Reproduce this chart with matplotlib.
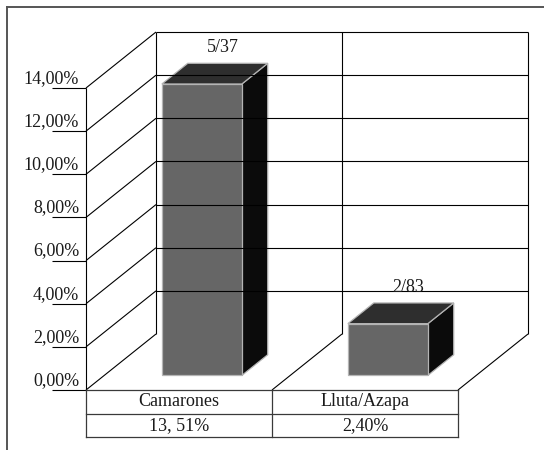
import matplotlib.pyplot as plt
from matplotlib.patches import Polygon
from matplotlib.lines import Line2D

# datos del grafico
categorias = ['Camarones', 'Lluta/Azapa']
porcentajes = [13.51, 2.40]
fracciones = ['5/37', '2/83']
valores_tabla = ['13, 51%', '2,40%']
ticks_y = [0, 2, 4, 6, 8, 10, 12, 14]
etiquetas_y = ['0,00%', '2,00%', '4,00%', '6,00%', '8,00%', '10,00%', '12,00%', '14,00%']

plt.rcParams['font.family'] = ['Liberation Serif', 'DejaVu Serif']
plt.rcParams['font.size'] = 13

W, H = 544, 450
fig = plt.figure(figsize=(W / 100, H / 100), dpi=100)
fig.patch.set_facecolor('white')

# plano frontal del grafico (en pixeles de la figura)
ax = fig.add_axes([86 / W, (H - 390) / H, 372 / W, 302 / H])
ax.set_xlim(0, len(categorias))
ax.set_ylim(0, 14)
ax.axis('off')

# cuanto vale un pixel en unidades de datos
px_x = len(categorias) / 372
px_y = 14 / 302
# profundidad del efecto 3D
DX = 70 * px_x
DY = 56 * px_y

kw = dict(color='black', lw=0.8, clip_on=False, solid_capstyle='butt')
color_texto = '#1a1a1a'

# pared izquierda, marcas y etiquetas del eje
for v, et in zip(ticks_y, etiquetas_y):
    ax.plot([0, DX], [v, v + DY], **kw)
    ax.plot([-34 * px_x, 0], [v, v], **kw)
    ax.text(-7 * px_x, v + 1 * px_y, et, ha='right', va='bottom', color=color_texto)
ax.plot([0, 0], [0, 14], **kw)

# pared del fondo
for v in ticks_y[1:]:
    ax.plot([DX, len(categorias) + DX], [v + DY, v + DY], **kw)
for i in range(len(categorias) + 1):
    ax.plot([i + DX, i + DX], [DY, 14 + DY], **kw)

# piso
for i in range(1, len(categorias) + 1):
    ax.plot([i, i + DX], [0, DY], **kw)

# barras 3D
f0, f1 = 0.26, 0.63
ancho = 0.43
ddx = (f1 - f0) * DX
ddy = (f1 - f0) * DY
for i, (v, fr) in enumerate(zip(porcentajes, fracciones)):
    xl = i + 0.31 + f0 * DX
    xr = xl + ancho
    yb = f0 * DY
    yt = yb + v
    borde = dict(edgecolor='#b4b4b4', lw=0.9, clip_on=False, joinstyle='miter')
    ax.add_patch(Polygon([(xr, yb), (xr + ddx, yb + ddy), (xr + ddx, yt + ddy), (xr, yt)],
                         closed=True, facecolor='#0b0b0b', **borde))
    ax.add_patch(Polygon([(xl, yt), (xr, yt), (xr + ddx, yt + ddy), (xl + ddx, yt + ddy)],
                         closed=True, facecolor='#2e2e2e', **borde))
    ax.add_patch(Polygon([(xl, yb), (xr, yb), (xr, yt), (xl, yt)],
                         closed=True, facecolor='#666666', **borde))
    ax.text(xl + ancho / 2 + 0.8 * ddx, yt + ddy + 7 * px_y, fr,
            ha='center', va='bottom', color=color_texto)

# tabla de datos bajo el grafico
kt = dict(color='#3a3a3a', lw=0.9, clip_on=False, solid_capstyle='projecting')
filas = [0, -24 * px_y, -47 * px_y]
for y in filas:
    ax.plot([0, len(categorias)], [y, y], **kt)
for i in range(len(categorias) + 1):
    ax.plot([i, i], [filas[0], filas[-1]], **kt)
for i, (cat, val) in enumerate(zip(categorias, valores_tabla)):
    ax.text(i + 0.5, (filas[0] + filas[1]) / 2, cat, ha='center', va='center', color=color_texto)
    ax.text(i + 0.5, (filas[1] + filas[2]) / 2, val, ha='center', va='center', color=color_texto)

# marco exterior (solo borde superior e izquierdo visibles)
fig.add_artist(Line2D([7 / W, 1], [1 - 6.5 / H, 1 - 6.5 / H], color='#555555', lw=1.4))
fig.add_artist(Line2D([7 / W, 7 / W], [0, 1 - 6.5 / H], color='#555555', lw=1.4))

fig.savefig('out.png', dpi=100)
